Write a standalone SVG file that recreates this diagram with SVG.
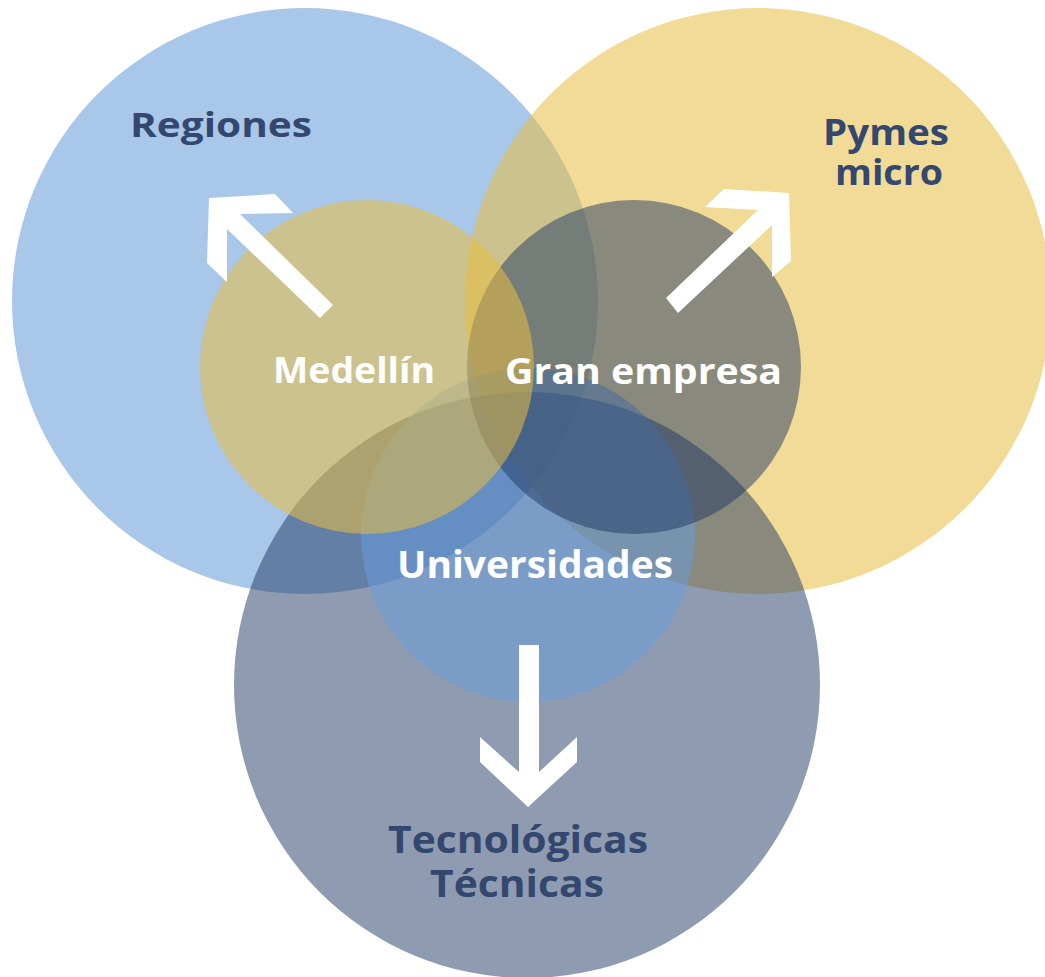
<svg xmlns="http://www.w3.org/2000/svg" width="1045" height="977" viewBox="0 0 1045 977">
<style>
.lbl{font-family:"Open Sans","Liberation Sans",sans-serif;font-weight:700;text-anchor:start}
.dark{fill:#34486F}
.white{fill:#FFFFFF}
.arrow{fill:#FFFFFF}
.blue{fill:#538FD3;fill-opacity:0.5}
.yel{fill:#E7BE42;fill-opacity:0.55}
.navy{fill:#1F3864;fill-opacity:0.5}
.uni{fill:#659EDD;fill-opacity:0.5}
</style>
<rect width="1045" height="977" fill="#FFFFFF"/>
<g id="regiones">
<circle class="blue" cx="305" cy="301" r="293"/>
</g>
<g id="pymes">
<circle class="yel" cx="758" cy="301" r="293"/>
</g>
<g id="tecnologicas">
<circle class="navy" cx="527" cy="685" r="293"/>
</g>
<g id="universidades">
<circle class="uni" cx="528" cy="535" r="167"/>
</g>
<g id="gran-empresa">
<circle class="navy" cx="634" cy="367" r="167"/>
</g>
<g id="medellin">
<circle class="yel" cx="367" cy="367" r="167"/>
</g>
<g id="connectors">
<polygon class="arrow" points="209,198 275,194 293,213 240,214 333,305 320,318 227,229 227,282 207,263"/>
<polygon class="arrow" points="666,298 758,210 705,207 724,189 789,193 791,261 772,277 772,225 678,313"/>
<polygon class="arrow" points="519,645 539,645 539,772 577,737 577,762 528,807 480,762 480,737 519,772"/>
</g>
<g id="labels">
<text class="lbl dark" x="130" y="137" font-size="34" textLength="182" lengthAdjust="spacingAndGlyphs">Regiones</text>
<text class="lbl dark" x="823" y="145" font-size="36" textLength="126" lengthAdjust="spacingAndGlyphs">Pymes</text>
<text class="lbl dark" x="835" y="185" font-size="36" textLength="108" lengthAdjust="spacingAndGlyphs">micro</text>
<text class="lbl white" x="273" y="383" font-size="36" textLength="162" lengthAdjust="spacingAndGlyphs">Medellín</text>
<text class="lbl white" x="505" y="384" font-size="36" textLength="277" lengthAdjust="spacingAndGlyphs">Gran empresa</text>
<text class="lbl white" x="397" y="578" font-size="37" textLength="276" lengthAdjust="spacingAndGlyphs">Universidades</text>
<text class="lbl dark" x="388" y="853" font-size="38" textLength="260" lengthAdjust="spacingAndGlyphs">Tecnológicas</text>
<text class="lbl dark" x="430" y="897" font-size="38" textLength="174" lengthAdjust="spacingAndGlyphs">Técnicas</text>
</g>
</svg>
